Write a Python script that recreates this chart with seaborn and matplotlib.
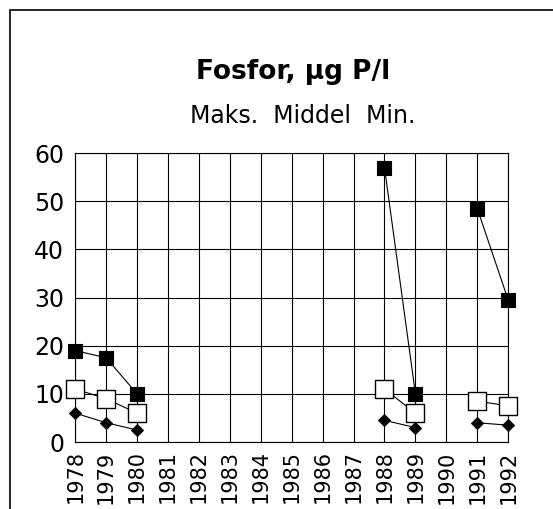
import numpy as np
import pandas as pd
import seaborn as sns
import matplotlib.pyplot as plt
from matplotlib.patches import Rectangle

years = list(range(1978, 1993))
maks = [19, 17.5, 10, None, None, None, None, None, None, None, 57, 10, None, 48.5, 29.5]
middel = [11, 9, 6, None, None, None, None, None, None, None, 11, 6, None, 8.5, 7.5]
mini = [6, 4, 2.5, None, None, None, None, None, None, None, 4.5, 3, None, 4, 3.5]

# segments of consecutive years (gaps are not joined)
seg = [0, 0, 0, -1, -1, -1, -1, -1, -1, -1, 1, 1, -1, 2, 2]

rows = []
for name, vals in [("Maks", maks), ("Middel", middel), ("Min", mini)]:
    for y, v, s in zip(years, vals, seg):
        if v is not None:
            rows.append({"aar": y, "verdi": v, "serie": name, "seg": s})
df = pd.DataFrame(rows)

sns.set_style("white")
plt.rcParams['font.family'] = ['DejaVu Sans']
plt.rcParams.update({"text.color": "black", "xtick.color": "black",
                     "ytick.color": "black", "axes.labelcolor": "black"})

fig = plt.figure(figsize=(5.53, 5.09), dpi=100)
ax = fig.add_axes([0.136, 0.1316, 0.783, 0.5674])
ax.set_axisbelow(True)

for name in ["Maks", "Middel", "Min"]:
    d = df[df["serie"] == name]
    sns.lineplot(data=d, x="aar", y="verdi", units="seg", estimator=None,
                 color="black", lw=0.8, ax=ax, legend=False)

sns.scatterplot(data=df[df["serie"] == "Middel"], x="aar", y="verdi", marker="s",
                s=150, color="white", edgecolor="black", linewidth=1.0, ax=ax, zorder=5)
sns.scatterplot(data=df[df["serie"] == "Maks"], x="aar", y="verdi", marker="s",
                s=110, color="black", edgecolor="black", linewidth=0.8, ax=ax, zorder=6)
sns.scatterplot(data=df[df["serie"] == "Min"], x="aar", y="verdi", marker="D",
                s=40, color="black", edgecolor="black", linewidth=0.5, ax=ax, zorder=6)
for art in ax.collections + ax.lines:
    art.set_clip_on(False)

ax.set_xlim(1978, 1992)
ax.set_ylim(0, 60)
ax.set_xticks(years)
ax.set_xticklabels([str(y) for y in years], rotation=90, fontsize=15)
ax.set_yticks([0, 10, 20, 30, 40, 50, 60])
ax.set_yticklabels(["0", "10", "20", "30", "40", "50", "60"], fontsize=17)
ax.grid(True, color="black", lw=0.8)
for sp in ax.spines.values():
    sp.set_color("black")
    sp.set_linewidth(0.8)
ax.tick_params(axis="both", length=4, width=0.8, color="black", direction="out", pad=2)
ax.tick_params(axis="y", pad=4)
ax.set_xlabel("")
ax.set_ylabel("")

fig.text(0.530, 0.858, "Fosfor, µg P/l", ha="center", va="center", fontsize=19, fontweight="bold")
fig.text(0.548, 0.773, "Maks.  Middel  Min.", ha="center", va="center", fontsize=17)

fig.patches.append(Rectangle((0.018, -0.05), 1.1, 1.03, transform=fig.transFigure,
                             fill=False, edgecolor="black", lw=1.2))

fig.savefig("out.png", dpi=100)
